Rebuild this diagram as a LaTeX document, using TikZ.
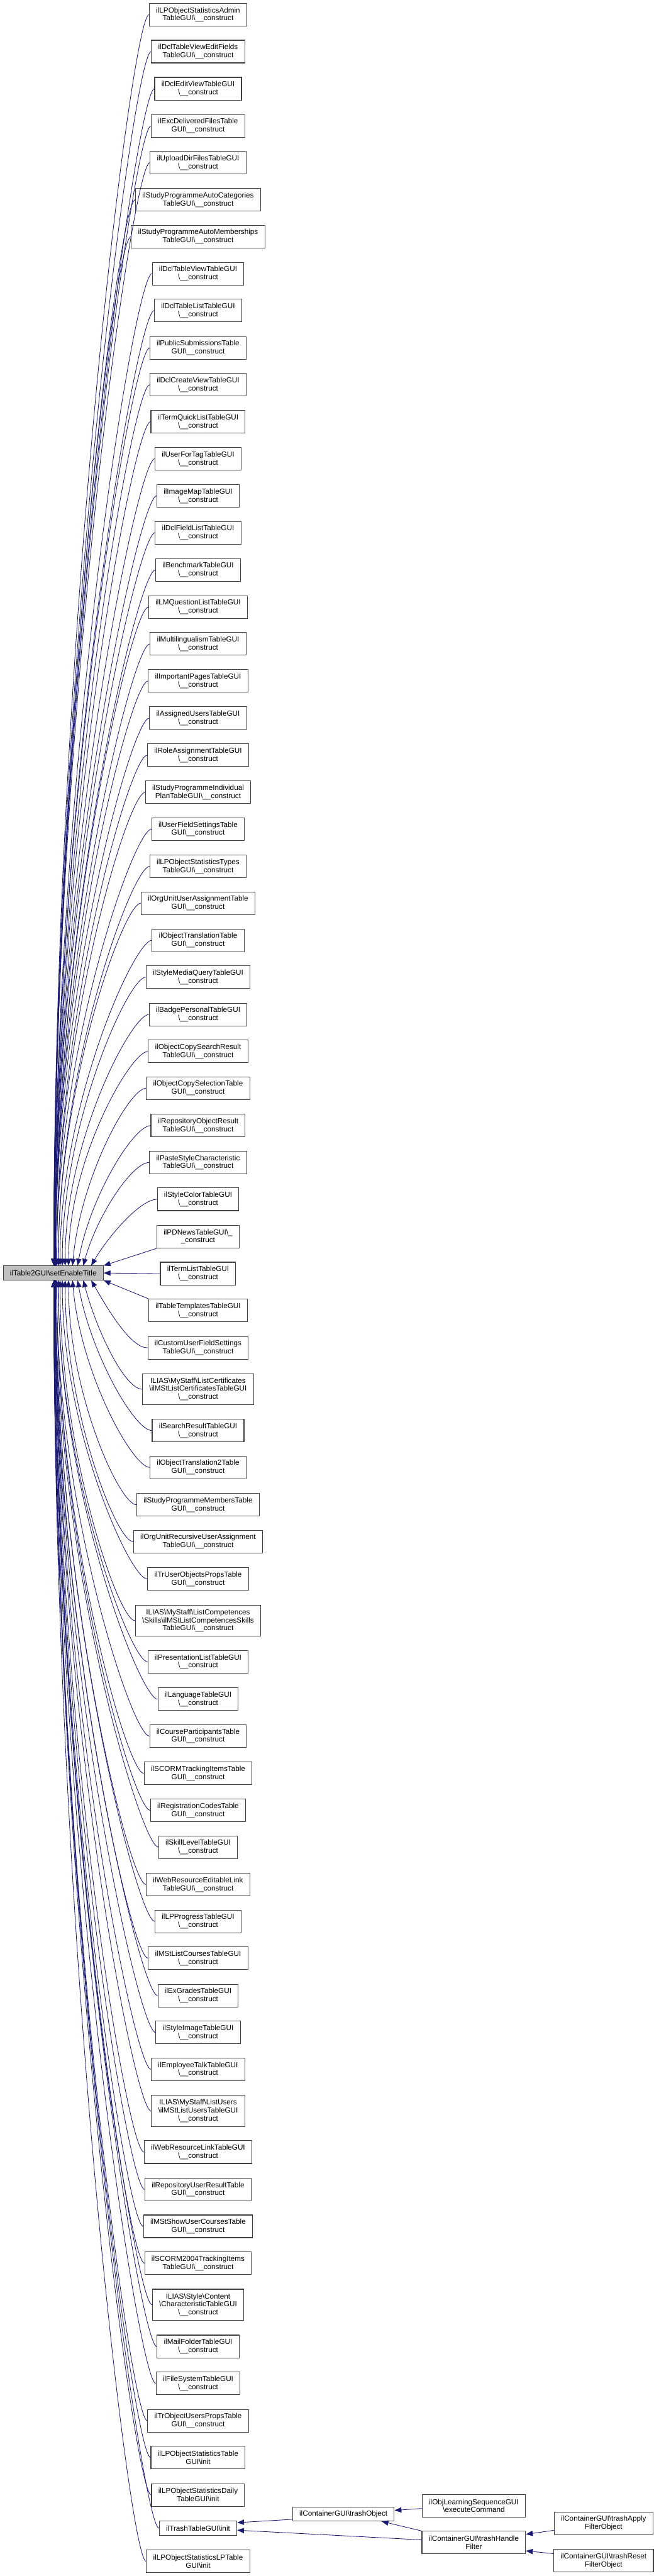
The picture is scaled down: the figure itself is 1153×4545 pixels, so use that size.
\documentclass[tikz,border=0pt]{standalone}
\usepackage{fontspec}
\setmainfont{Liberation Sans}
\usetikzlibrary{arrows.meta,calc}
\definecolor{edgeblue}{HTML}{191970}
\newcommand{\bsl}{\textbackslash}

\begin{document}
\begin{tikzpicture}[
  x=0.75pt, y=-0.75pt,
  box/.style={rectangle, draw=black!75, line width=0.9pt, fill=white, align=center, font=\fontsize{9.75}{10.7}\selectfont, inner xsep=9pt, inner ysep=2pt, minimum height=30pt},
  onebox/.style={box, minimum height=18.75pt},
  threebox/.style={box, minimum height=41.25pt},
  arrow/.style={-{Triangle[length=9pt, width=7pt]}, draw=edgeblue, line width=0.7pt},
]
\useasboundingbox (0,0) rectangle (1153,4545);

% === CALLEE ===
\node[onebox, fill=gray!50] (main) at (94, 2246) {ilTable2GUI\bsl setEnableTitle};

% === CALLERS, ONE COLUMN ===
\node[box] (lpadmin) at (349.5, 26) {ilLPObjectStatisticsAdmin\\TableGUI\bsl\_\_construct};
\node[box] (dclfieldsedit) at (349.5, 91) {ilDclTableViewEditFields\\TableGUI\bsl\_\_construct};
\node[box] (dcleditview) at (349.5, 156.5) {ilDclEditViewTableGUI\\\bsl\_\_construct};
\node[box] (excfiles) at (349.5, 222) {ilExcDeliveredFilesTable\\GUI\bsl\_\_construct};
\node[box] (uploaddir) at (349.5, 287) {ilUploadDirFilesTableGUI\\\bsl\_\_construct};
\node[box] (spautocat) at (349.5, 352.5) {ilStudyProgrammeAutoCategories\\TableGUI\bsl\_\_construct};
\node[box] (spautomem) at (349.5, 417.5) {ilStudyProgrammeAutoMemberships\\TableGUI\bsl\_\_construct};
\node[box] (dcltableview) at (349.5, 483) {ilDclTableViewTableGUI\\\bsl\_\_construct};
\node[box] (dcltablelist) at (349.5, 548) {ilDclTableListTableGUI\\\bsl\_\_construct};
\node[box] (pubsubmissions) at (349.5, 614) {ilPublicSubmissionsTable\\GUI\bsl\_\_construct};
\node[box] (dclcreateview) at (349.5, 679) {ilDclCreateViewTableGUI\\\bsl\_\_construct};
\node[box] (termquick) at (349.5, 744) {ilTermQuickListTableGUI\\\bsl\_\_construct};
\node[box] (userfortag) at (349.5, 809.5) {ilUserForTagTableGUI\\\bsl\_\_construct};
\node[box] (imagemap) at (349.5, 875) {ilImageMapTableGUI\\\bsl\_\_construct};
\node[box] (dclfieldlist) at (349.5, 940) {ilDclFieldListTableGUI\\\bsl\_\_construct};
\node[box] (benchmark) at (349.5, 1005.5) {ilBenchmarkTableGUI\\\bsl\_\_construct};
\node[box] (lmquestion) at (349.5, 1071) {ilLMQuestionListTableGUI\\\bsl\_\_construct};
\node[box] (multiling) at (349.5, 1136) {ilMultilingualismTableGUI\\\bsl\_\_construct};
\node[box] (imppages) at (349.5, 1201.5) {ilImportantPagesTableGUI\\\bsl\_\_construct};
\node[box] (assignedusers) at (349.5, 1267) {ilAssignedUsersTableGUI\\\bsl\_\_construct};
\node[box] (roleassign) at (349.5, 1332.5) {ilRoleAssignmentTableGUI\\\bsl\_\_construct};
\node[box] (spindividual) at (349.5, 1398) {ilStudyProgrammeIndividual\\PlanTableGUI\bsl\_\_construct};
\node[box] (userfieldset) at (349.5, 1463) {ilUserFieldSettingsTable\\GUI\bsl\_\_construct};
\node[box] (lptypes) at (349.5, 1528.5) {ilLPObjectStatisticsTypes\\TableGUI\bsl\_\_construct};
\node[box] (orgunitassign) at (349.5, 1593.5) {ilOrgUnitUserAssignmentTable\\GUI\bsl\_\_construct};
\node[box] (objtrans) at (349.5, 1659) {ilObjectTranslationTable\\GUI\bsl\_\_construct};
\node[box] (stylemedia) at (349.5, 1724) {ilStyleMediaQueryTableGUI\\\bsl\_\_construct};
\node[box] (badgepersonal) at (349.5, 1790) {ilBadgePersonalTableGUI\\\bsl\_\_construct};
\node[box] (copysearch) at (349.5, 1855) {ilObjectCopySearchResult\\TableGUI\bsl\_\_construct};
\node[box] (copyselect) at (349.5, 1920) {ilObjectCopySelectionTable\\GUI\bsl\_\_construct};
\node[box] (reporesult) at (349.5, 1986) {ilRepositoryObjectResult\\TableGUI\bsl\_\_construct};
\node[box] (pastestyle) at (349.5, 2051) {ilPasteStyleCharacteristic\\TableGUI\bsl\_\_construct};
\node[box] (stylecolor) at (349.5, 2116) {ilStyleColorTableGUI\\\bsl\_\_construct};
\node[box] (pdnews) at (349.5, 2182) {ilPDNewsTableGUI\bsl\_\\\_construct};
\node[box] (termlist) at (349.5, 2247) {ilTermListTableGUI\\\bsl\_\_construct};
\node[box] (tabletemplates) at (349.5, 2312) {ilTableTemplatesTableGUI\\\bsl\_\_construct};
\node[box] (customfield) at (349.5, 2378) {ilCustomUserFieldSettings\\TableGUI\bsl\_\_construct};
\node[threebox] (mstcerts) at (349.5, 2451) {ILIAS\bsl MyStaff\bsl ListCertificates\\\bsl ilMStListCertificatesTableGUI\\\bsl\_\_construct};
\node[box] (searchresult) at (349.5, 2524) {ilSearchResultTableGUI\\\bsl\_\_construct};
\node[box] (objtrans2) at (349.5, 2589) {ilObjectTranslation2Table\\GUI\bsl\_\_construct};
\node[box] (spmembers) at (349.5, 2655) {ilStudyProgrammeMembersTable\\GUI\bsl\_\_construct};
\node[box] (orgunitrec) at (349.5, 2720) {ilOrgUnitRecursiveUserAssignment\\TableGUI\bsl\_\_construct};
\node[box] (truserobj) at (349.5, 2786) {ilTrUserObjectsPropsTable\\GUI\bsl\_\_construct};
\node[threebox] (mstskills) at (349.5, 2859.5) {ILIAS\bsl MyStaff\bsl ListCompetences\\\bsl Skills\bsl ilMStListCompetencesSkills\\TableGUI\bsl\_\_construct};
\node[box] (presentation) at (349.5, 2932) {ilPresentationListTableGUI\\\bsl\_\_construct};
\node[box] (language) at (349.5, 2998) {ilLanguageTableGUI\\\bsl\_\_construct};
\node[box] (courseparts) at (349.5, 3063) {ilCourseParticipantsTable\\GUI\bsl\_\_construct};
\node[box] (scormitems) at (349.5, 3129) {ilSCORMTrackingItemsTable\\GUI\bsl\_\_construct};
\node[box] (regcodes) at (349.5, 3194) {ilRegistrationCodesTable\\GUI\bsl\_\_construct};
\node[box] (skilllevel) at (349.5, 3259) {ilSkillLevelTableGUI\\\bsl\_\_construct};
\node[box] (webeditable) at (349.5, 3325) {ilWebResourceEditableLink\\TableGUI\bsl\_\_construct};
\node[box] (lpprogress) at (349.5, 3390) {ilLPProgressTableGUI\\\bsl\_\_construct};
\node[box] (mstcourses) at (349.5, 3455) {ilMStListCoursesTableGUI\\\bsl\_\_construct};
\node[box] (exgrades) at (349.5, 3521) {ilExGradesTableGUI\\\bsl\_\_construct};
\node[box] (styleimage) at (349.5, 3586) {ilStyleImageTableGUI\\\bsl\_\_construct};
\node[box] (employeetalk) at (349.5, 3651) {ilEmployeeTalkTableGUI\\\bsl\_\_construct};
\node[threebox] (mstusers) at (349.5, 3724.5) {ILIAS\bsl MyStaff\bsl ListUsers\\\bsl ilMStListUsersTableGUI\\\bsl\_\_construct};
\node[box] (weblink) at (349.5, 3797) {ilWebResourceLinkTableGUI\\\bsl\_\_construct};
\node[box] (repouser) at (349.5, 3863) {ilRepositoryUserResultTable\\GUI\bsl\_\_construct};
\node[box] (mstshowcourses) at (349.5, 3928) {ilMStShowUserCoursesTable\\GUI\bsl\_\_construct};
\node[box] (scorm2004) at (349.5, 3993) {ilSCORM2004TrackingItems\\TableGUI\bsl\_\_construct};
\node[threebox] (stylechar) at (349.5, 4066.5) {ILIAS\bsl Style\bsl Content\\\bsl CharacteristicTableGUI\\\bsl\_\_construct};
\node[box] (mailfolder) at (349.5, 4140) {ilMailFolderTableGUI\\\bsl\_\_construct};
\node[box] (filesystem) at (349.5, 4205) {ilFileSystemTableGUI\\\bsl\_\_construct};
\node[box] (trobjusers) at (349.5, 4271) {ilTrObjectUsersPropsTable\\GUI\bsl\_\_construct};
\node[box] (lpstats) at (349.5, 4336) {ilLPObjectStatisticsTable\\GUI\bsl init};
\node[box] (lpdaily) at (349.5, 4402) {ilLPObjectStatisticsDaily\\TableGUI\bsl init};
\node[onebox] (trashinit) at (349.5, 4460.5) {ilTrashTableGUI\bsl init};
\node[box] (lplptable) at (349.5, 4519) {ilLPObjectStatisticsLPTable\\GUI\bsl init};

% === TRASH CHAIN ===
\node[onebox] (trashobj) at (606, 4435.5) {ilContainerGUI\bsl trashObject};
\node[box] (lsocmd) at (836, 4421) {ilObjLearningSequenceGUI\\\bsl executeCommand};
\node[box] (trashfilter) at (836, 4486) {ilContainerGUI\bsl trashHandle\\Filter};
\node[box] (trashapply) at (1065, 4452) {ilContainerGUI\bsl trashApply\\FilterObject};
\node[box] (trashreset) at (1065, 4518) {ilContainerGUI\bsl trashReset\\FilterObject};

% calls from above
\draw[arrow] (lpadmin.west) .. controls +(-30,0) and +(0,-1104) .. ($(main.north east)+(-88,0)$);
\draw[arrow] (dclfieldsedit.west) .. controls +(-30,0) and +(0,-1071) .. ($(main.north east)+(-88,0)$);
\draw[arrow] (dcleditview.west) .. controls +(-30,0) and +(0,-1038) .. ($(main.north east)+(-88,0)$);
\draw[arrow] (excfiles.west) .. controls +(-30,0) and +(0,-1005) .. ($(main.north east)+(-88,0)$);
\draw[arrow] (uploaddir.west) .. controls +(-30,0) and +(0,-973) .. ($(main.north east)+(-88,0)$);
\draw[arrow] (spautocat.west) .. controls +(-30,0) and +(0,-940) .. ($(main.north east)+(-87,0)$);
\draw[arrow] (spautomem.west) .. controls +(-30,0) and +(0,-908) .. ($(main.north east)+(-87,0)$);
\draw[arrow] (dcltableview.west) .. controls +(-30,0) and +(0,-875) .. ($(main.north east)+(-87,0)$);
\draw[arrow] (dcltablelist.west) .. controls +(-30,0) and +(0,-842) .. ($(main.north east)+(-87,0)$);
\draw[arrow] (pubsubmissions.west) .. controls +(-30,0) and +(0,-810) .. ($(main.north east)+(-87,0)$);
\draw[arrow] (dclcreateview.west) .. controls +(-30,0) and +(0,-777) .. ($(main.north east)+(-86,0)$);
\draw[arrow] (termquick.west) .. controls +(-30,0) and +(0,-744) .. ($(main.north east)+(-86,0)$);
\draw[arrow] (userfortag.west) .. controls +(-30,0) and +(0,-712) .. ($(main.north east)+(-86,0)$);
\draw[arrow] (imagemap.west) .. controls +(-30,0) and +(0,-679) .. ($(main.north east)+(-86,0)$);
\draw[arrow] (dclfieldlist.west) .. controls +(-30,0) and +(0,-646) .. ($(main.north east)+(-86,0)$);
\draw[arrow] (benchmark.west) .. controls +(-30,0) and +(0,-614) .. ($(main.north east)+(-85,0)$);
\draw[arrow] (lmquestion.west) .. controls +(-30,0) and +(0,-581) .. ($(main.north east)+(-85,0)$);
\draw[arrow] (multiling.west) .. controls +(-30,0) and +(0,-548) .. ($(main.north east)+(-85,0)$);
\draw[arrow] (imppages.west) .. controls +(-30,0) and +(0,-516) .. ($(main.north east)+(-85,0)$);
\draw[arrow] (assignedusers.west) .. controls +(-30,0) and +(0,-483) .. ($(main.north east)+(-85,0)$);
\draw[arrow] (roleassign.west) .. controls +(-30,0) and +(0,-450) .. ($(main.north east)+(-83,0)$);
\draw[arrow] (spindividual.west) .. controls +(-30,0) and +(0,-418) .. ($(main.north east)+(-83,0)$);
\draw[arrow] (userfieldset.west) .. controls +(-30,0) and +(0,-385) .. ($(main.north east)+(-83,0)$);
\draw[arrow] (lptypes.west) .. controls +(-30,0) and +(0,-352) .. ($(main.north east)+(-80,0)$);
\draw[arrow] (orgunitassign.west) .. controls +(-30,0) and +(0,-320) .. ($(main.north east)+(-80,0)$);
\draw[arrow] (objtrans.west) .. controls +(-30,0) and +(0,-287) .. ($(main.north east)+(-77,0)$);
\draw[arrow] (stylemedia.west) .. controls +(-30,0) and +(0,-254) .. ($(main.north east)+(-73,0)$);
\draw[arrow] (badgepersonal.west) .. controls +(-30,0) and +(0,-222) .. ($(main.north east)+(-68,0)$);
\draw[arrow] (copysearch.west) .. controls +(-30,0) and +(0,-189) .. ($(main.north east)+(-62,0)$);
\draw[arrow] (copyselect.west) .. controls +(-30,0) and +(14,-155) .. ($(main.north east)+(-55,0)$);
\draw[arrow] (reporesult.west) .. controls +(-30,0) and +(22,-122) .. ($(main.north east)+(-46,0)$);
\draw[arrow] (pastestyle.west) .. controls +(-30,0) and +(24,-88) .. ($(main.north east)+(-36,0)$);
\draw[arrow] (stylecolor.west) .. controls +(-30,0) and +(29,-50) .. ($(main.north east)+(-22,0)$);
\draw[arrow] (pdnews.south west) -- (main.north east);
\draw[arrow] (termlist.west) -- (main.east);

% calls from below
\draw[arrow] (tabletemplates.north west) -- (main.south east);
\draw[arrow] (customfield.west) .. controls +(-30,0) and +(30,52) .. ($(main.south east)+(-22,0)$);
\draw[arrow] (mstcerts.west) .. controls +(-30,0) and +(25,93) .. ($(main.south east)+(-36,0)$);
\draw[arrow] (searchresult.west) .. controls +(-30,0) and +(23,130) .. ($(main.south east)+(-46,0)$);
\draw[arrow] (objtrans2.west) .. controls +(-30,0) and +(14,164) .. ($(main.south east)+(-55,0)$);
\draw[arrow] (spmembers.west) .. controls +(-30,0) and +(0,198) .. ($(main.south east)+(-62,0)$);
\draw[arrow] (orgunitrec.west) .. controls +(-30,0) and +(0,230) .. ($(main.south east)+(-68,0)$);
\draw[arrow] (truserobj.west) .. controls +(-30,0) and +(0,263) .. ($(main.south east)+(-73,0)$);
\draw[arrow] (mstskills.west) .. controls +(-30,0) and +(0,300) .. ($(main.south east)+(-77,0)$);
\draw[arrow] (presentation.west) .. controls +(-30,0) and +(0,336) .. ($(main.south east)+(-80,0)$);
\draw[arrow] (language.west) .. controls +(-30,0) and +(0,370) .. ($(main.south east)+(-80,0)$);
\draw[arrow] (courseparts.west) .. controls +(-30,0) and +(0,402) .. ($(main.south east)+(-83,0)$);
\draw[arrow] (scormitems.west) .. controls +(-30,0) and +(0,435) .. ($(main.south east)+(-83,0)$);
\draw[arrow] (regcodes.west) .. controls +(-30,0) and +(0,467) .. ($(main.south east)+(-83,0)$);
\draw[arrow] (skilllevel.west) .. controls +(-30,0) and +(0,500) .. ($(main.south east)+(-85,0)$);
\draw[arrow] (webeditable.west) .. controls +(-30,0) and +(0,533) .. ($(main.south east)+(-85,0)$);
\draw[arrow] (lpprogress.west) .. controls +(-30,0) and +(0,565) .. ($(main.south east)+(-85,0)$);
\draw[arrow] (mstcourses.west) .. controls +(-30,0) and +(0,598) .. ($(main.south east)+(-85,0)$);
\draw[arrow] (exgrades.west) .. controls +(-30,0) and +(0,631) .. ($(main.south east)+(-86,0)$);
\draw[arrow] (styleimage.west) .. controls +(-30,0) and +(0,663) .. ($(main.south east)+(-86,0)$);
\draw[arrow] (employeetalk.west) .. controls +(-30,0) and +(0,696) .. ($(main.south east)+(-86,0)$);
\draw[arrow] (mstusers.west) .. controls +(-30,0) and +(0,733) .. ($(main.south east)+(-86,0)$);
\draw[arrow] (weblink.west) .. controls +(-30,0) and +(0,769) .. ($(main.south east)+(-86,0)$);
\draw[arrow] (repouser.west) .. controls +(-30,0) and +(0,802) .. ($(main.south east)+(-87,0)$);
\draw[arrow] (mstshowcourses.west) .. controls +(-30,0) and +(0,834) .. ($(main.south east)+(-87,0)$);
\draw[arrow] (scorm2004.west) .. controls +(-30,0) and +(0,867) .. ($(main.south east)+(-87,0)$);
\draw[arrow] (stylechar.west) .. controls +(-30,0) and +(0,904) .. ($(main.south east)+(-87,0)$);
\draw[arrow] (mailfolder.west) .. controls +(-30,0) and +(0,940) .. ($(main.south east)+(-87,0)$);
\draw[arrow] (filesystem.west) .. controls +(-30,0) and +(0,973) .. ($(main.south east)+(-88,0)$);
\draw[arrow] (trobjusers.west) .. controls +(-30,0) and +(0,1006) .. ($(main.south east)+(-88,0)$);
\draw[arrow] (lpstats.west) .. controls +(-30,0) and +(0,1038) .. ($(main.south east)+(-88,0)$);
\draw[arrow] (lpdaily.west) .. controls +(-30,0) and +(0,1071) .. ($(main.south east)+(-88,0)$);
\draw[arrow] (trashinit.west) .. controls +(-30,0) and +(0,1101) .. ($(main.south east)+(-88,0)$);
\draw[arrow] (lplptable.west) .. controls +(-30,0) and +(0,1130) .. ($(main.south east)+(-88,0)$);

% trash chain calls
\draw[arrow] (trashobj.186) -- (trashinit.8);
\draw[arrow] (trashfilter.177) -- (trashinit.-3);
\draw[arrow] (trashfilter.north west) -- (trashobj.-11);
\draw[arrow] (lsocmd.183) -- (trashobj.4);
\draw[arrow] (trashapply.188) -- (trashfilter.9);
\draw[arrow] (trashreset.172) -- (trashfilter.-9);
\end{tikzpicture}
\end{document}
